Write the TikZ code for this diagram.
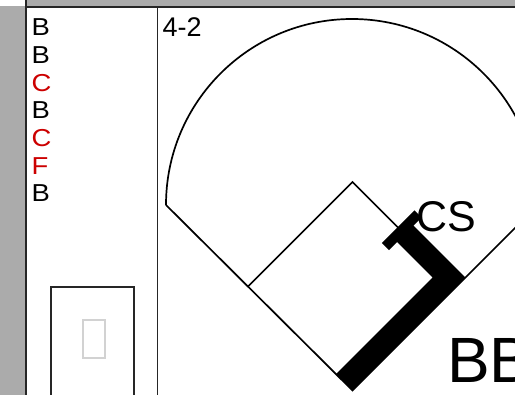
\documentclass[tikz,border=0pt]{standalone}
\usepackage{fontspec}
\setmainfont{Liberation Sans}
\newfontfamily\pitchfont[FakeStretch=1.12]{Liberation Sans}
\definecolor{framegray}{HTML}{ABABAB}
\definecolor{pitchred}{HTML}{CC0000}
\definecolor{boxgray}{HTML}{D2D2D2}
\begin{document}
\begin{tikzpicture}[x=1pt,y=1pt,
  frameline/.style={line width=1.7pt,black!85},
  fieldline/.style={line width=1.7pt,black},
  runbar/.style={line width=23pt,black,line join=miter,line cap=butt},
  crossbar/.style={line width=10pt,black,line cap=butt},
  pitchtxt/.style={anchor=base west,inner sep=0pt,font=\pitchfont\fontsize{24.5}{24.5}\selectfont},
  ball/.style={pitchtxt,text=black},
  strike/.style={pitchtxt,text=pitchred}]
\useasboundingbox (0,0) rectangle (515,395);
\clip (0,0) rectangle (515,395);
% frame
\fill[framegray] (26,388) rectangle (515,395);
\fill[framegray] (0,0) rectangle (26,389);
\draw[frameline] (26,0) -- (26,395);
\draw[frameline] (26,388) -- (515,388);
\draw[frameline] (157.5,0) -- (157.5,388);
% pitch list
\node[ball]   (p1) at (31.5,359.3) {B};
\node[ball]   (p2) at (31.5,331.6) {B};
\node[strike] (p3) at (31.5,303.9) {C};
\node[ball]   (p4) at (31.5,276.2) {B};
\node[strike] (p5) at (31.5,248.5) {C};
\node[strike] (p6) at (31.5,220.8) {F};
\node[ball]   (p7) at (31.5,193.1) {B};
% box at bottom left
\node[draw=black!85,line width=1.7pt,minimum width=83pt,minimum height=115pt,inner sep=0pt] (outbox) at (92.5,50.5) {};
\node[draw=boxgray,line width=1.7pt,minimum width=22pt,minimum height=38pt,inner sep=0pt] (glyphbox) at (94,56) {};
% count
\node[anchor=base west,inner sep=0pt,font=\fontsize{27}{27}\selectfont] (count) at (162.5,358.3) {4-2};
% field geometry
\coordinate (home) at (352.5,4.5);
\coordinate (second) at (352.5,213);
\coordinate (third) at (248.25,108.75);
\coordinate (first) at (456.75,108.75);
\coordinate (lfoul) at (166,190);
\coordinate (rfoul) at (538,190);
\draw[fieldline] (rfoul) arc[start angle=0,end angle=180,radius=186pt];
\draw[fieldline] (lfoul) -- (home) -- (rfoul);
\draw[fieldline] (third) -- (second) -- (first);
% runner path
\coordinate (barstart) at (344.2,12.8);
\coordinate (barcorner) at (449,117.5);
\coordinate (barend) at (401.75,164.75);
\coordinate (crossA) at (385.45,148.45);
\coordinate (crossB) at (418.05,181.05);
\draw[runbar] (barstart) -- (barcorner) -- (barend);
\draw[crossbar] (crossA) -- (crossB);
% labels
\node[anchor=base west,inner sep=0pt,font=\fontsize{43}{43}\selectfont] (cs) at (416,163) {CS};
\node[anchor=base west,inner sep=0pt,font=\fontsize{64}{64}\selectfont] (bb) at (447,12) {BB};
\end{tikzpicture}
\end{document}
